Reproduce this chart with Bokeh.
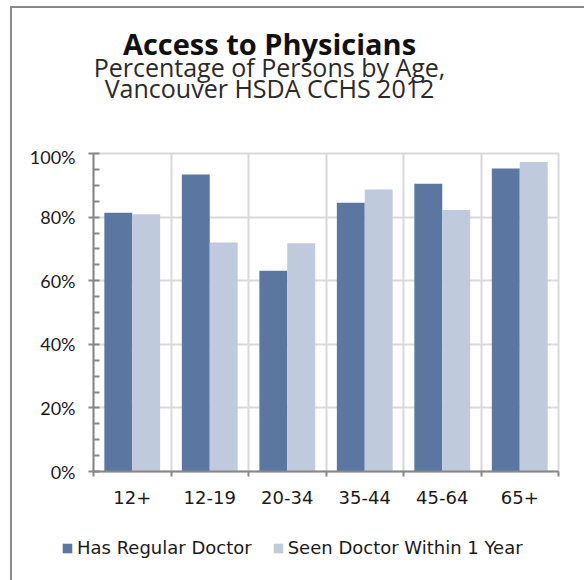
import numpy as np
from bokeh.plotting import figure
from bokeh.layouts import column
from bokeh.models import (Range1d, FixedTicker, PrintfTickFormatter, Label,
                          Legend, LegendItem, ColumnDataSource)
from bokeh.embed import file_html
from bokeh.resources import INLINE

# Survey results (percent of persons)
age_groups = ["12+", "12-19", "20-34", "35-44", "45-64", "65+"]
has_regular_doctor = [81.4, 93.4, 63.1, 84.5, 90.5, 95.3]
seen_doctor_1yr = [80.9, 72.0, 71.8, 88.7, 82.2, 97.3]
series_names = ["Has Regular Doctor", "Seen Doctor Within 1 Year"]
y_ticks = [0, 20, 40, 60, 80, 100]
title_text = "Access to Physicians"
subtitle_lines = ["Percentage of Persons by Age,", "Vancouver HSDA CCHS 2012"]

DARK = "#5B77A1"
LIGHT = "#BFCADC"
GRID = "#D9D9D9"
AXIS = "#878787"
TEXT = "#1a1a1a"

W = 572
HEAD_H, MAIN_H, FOOT_H = 137, 371, 64


def blank(height, y_top_down=True):
    """A bare figure whose frame fills the canvas, one unit per pixel."""
    f = figure(width=W, height=height, output_backend="svg", toolbar_location=None,
               x_range=Range1d(0, W),
               y_range=Range1d(height, 0) if y_top_down else Range1d(0, height),
               x_axis_location=None, y_axis_location=None,
               min_border=0, outline_line_color=None, frame_align=False)
    f.grid.visible = False
    return f


# ---- heading -------------------------------------------------------------
head = blank(HEAD_H)
head.add_layout(Label(x=257, y=35, text=title_text, text_align="center",
                      text_baseline="alphabetic", text_font="Open Sans",
                      text_font_style="bold", text_font_size="29px",
                      text_color="#111111"))
for line, base in zip(subtitle_lines, [58, 79]):
    head.add_layout(Label(x=257, y=base, text=line, text_align="center",
                          text_baseline="alphabetic", text_font="Open Sans",
                          text_font_size="25px", text_color="#2a2a2a"))

# ---- bar chart -----------------------------------------------------------
centers = np.arange(len(age_groups)) + 0.5
bar_w = 0.36

p = figure(width=W, height=MAIN_H, output_backend="svg", toolbar_location=None,
           x_range=Range1d(0, len(age_groups)), y_range=Range1d(0, 100),
           min_border_left=81, min_border_right=26, min_border_top=8,
           min_border_bottom=45, frame_align=False)
p.outline_line_color = GRID
p.outline_line_width = 2

src = ColumnDataSource(dict(x1=centers - bar_w / 2, x2=centers + bar_w / 2,
                            a=has_regular_doctor, b=seen_doctor_1yr))
p.vbar(x="x1", top="a", width=bar_w, source=src, fill_color=DARK, line_color=None)
p.vbar(x="x2", top="b", width=bar_w, source=src, fill_color=LIGHT, line_color=None)

# y axis: percent labels, minor ticks every 5
p.yaxis.ticker = FixedTicker(ticks=y_ticks, minor_ticks=list(range(0, 101, 5)))
p.yaxis.formatter = PrintfTickFormatter(format="%d%%")
p.yaxis.major_label_text_font = "Lato"
p.yaxis.major_label_text_font_size = "18px"
p.yaxis.major_label_text_color = TEXT
p.yaxis.major_label_standoff = 13
p.yaxis.major_tick_out = 5
p.yaxis.major_tick_in = 0
p.yaxis.minor_tick_in = 6
p.yaxis.minor_tick_out = 0

# x axis: labels at group centres, tick marks at group boundaries
bounds = list(range(len(age_groups) + 1))
p.xaxis.ticker = FixedTicker(ticks=list(centers), minor_ticks=bounds)
p.xaxis.major_label_overrides = {float(c): g for c, g in zip(centers, age_groups)}
p.xaxis.major_label_text_font = "DejaVu Sans"
p.xaxis.major_label_text_font_size = "18px"
p.xaxis.major_label_text_color = TEXT
p.xaxis.major_label_standoff = 14
p.xaxis.major_tick_out = 0
p.xaxis.major_tick_in = 0
p.xaxis.minor_tick_out = 5
p.xaxis.minor_tick_in = 0

for ax in (p.xaxis, p.yaxis):
    ax.axis_line_color = AXIS
    ax.axis_line_width = 2
    ax.major_tick_line_color = AXIS
    ax.major_tick_line_width = 2
    ax.minor_tick_line_color = AXIS
    ax.minor_tick_line_width = 2

p.xgrid.ticker = FixedTicker(ticks=bounds)
p.ygrid.ticker = FixedTicker(ticks=y_ticks)
for g in (p.xgrid, p.ygrid):
    g.grid_line_color = GRID
    g.grid_line_width = 2

# ---- legend strip --------------------------------------------------------
foot = blank(FOOT_H, y_top_down=False)
# zero-height bars: they only lend their fill to the legend swatches
swatches = [foot.vbar(x=[0], top=[0], bottom=[0], width=0, fill_color=c, line_color=None)
            for c in (DARK, LIGHT)]
legend = Legend(items=[LegendItem(label=n, renderers=[r])
                       for n, r in zip(series_names, swatches)],
                orientation="horizontal", location=(49, 22),
                glyph_width=12, glyph_height=12, label_standoff=4, spacing=20,
                padding=0, margin=0, border_line_color=None,
                background_fill_alpha=0, label_text_font="DejaVu Sans",
                label_text_font_size="18px", label_text_color=TEXT)
foot.add_layout(legend)

layout = column(head, p, foot, margin=(6, 0, 0, 10),
                styles={"border-top": "2px solid #8a8a8a",
                        "border-left": "2px solid #8a8a8a"})

open("out.html", "w").write(file_html(layout, INLINE))
